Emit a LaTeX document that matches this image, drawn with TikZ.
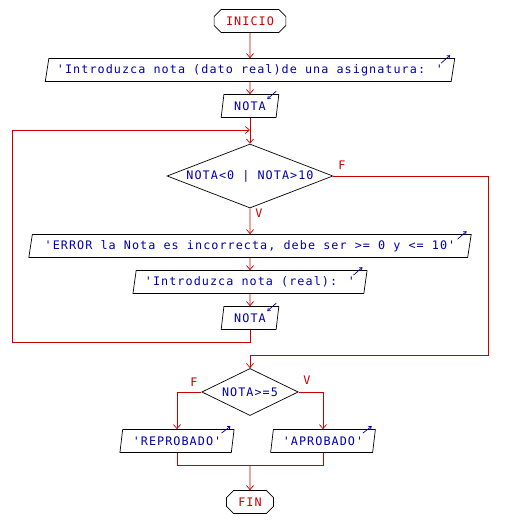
\documentclass[tikz,border=0pt]{standalone}
\usepackage{fontspec}
\usepackage{tikz}
\usetikzlibrary{arrows.meta,positioning,shapes.geometric,shapes.misc}
\usepackage{xcolor}
\newfontfamily\dfdfont{DejaVu Sans Mono}[LetterSpace=9]
\definecolor{dfdblue}{RGB}{0,0,170}
\definecolor{dfdred}{RGB}{200,0,0}
\tikzset{
  term/.style     = {draw, chamfered rectangle, chamfered rectangle xsep=3pt,
                     chamfered rectangle ysep=3pt, inner sep=0pt,
                     minimum height=19.5pt, text=dfdred},
  io/.style       = {draw, trapezium, trapezium left angle=73,
                     trapezium right angle=107, trapezium stretches body,
                     inner sep=0pt, minimum height=19.5pt, text=dfdblue},
  decision/.style = {draw, diamond, inner sep=0pt, text=dfdblue},
  flow/.style     = {draw=dfdred, -{Straight Barb[length=3.5pt,width=6pt]}},
  wire/.style     = {draw=dfdred},
  iomark/.style   = {draw=dfdblue, -{Straight Barb[length=2pt,width=3pt]}},
  lbl/.style      = {text=dfdred, inner sep=0pt},
}
\begin{document}
\begin{tikzpicture}[x=0.85pt,y=-0.85pt,line width=0.6pt,font=\dfdfont\fontsize{10pt}{12pt}\selectfont]
\useasboundingbox (0,0) rectangle (511,521);
\node[term,minimum width=61pt] (ini) at (250,21) {INICIO};
\node[io,minimum width=348pt] (out1) at (250,70) {'Introduzca nota (dato real)de una asignatura: '};
\node[io,minimum width=49pt] (in1) at (250,106) {NOTA};
\coordinate (j1) at (250,130);
\node[decision,aspect=2.6,minimum width=141pt,minimum height=54.4pt] (dec1) at (250,176) {NOTA<0 | NOTA>10};
\node[io,minimum width=376pt] (err) at (250,246) {'ERROR la Nota es incorrecta, debe ser >= 0 y <= 10'};
\node[io,minimum width=199pt] (out2) at (250,282) {'Introduzca nota (real): '};
\node[io,minimum width=49pt] (in2) at (250,318) {NOTA};
\coordinate (b1) at (12,342);
\coordinate (c1) at (488,355);
\node[decision,aspect=2,minimum width=82pt,minimum height=40pt] (dec2) at (250,392) {NOTA>=5};
\node[io,minimum width=97pt] (rep) at (177,441) {'REPROBADO'};
\node[io,minimum width=89pt] (apr) at (323,441) {'APROBADO'};
\coordinate (m1) at (250,465);
\node[term,minimum width=40pt] (fin) at (250,502) {FIN};
\node[lbl] (f1) at (342,165) {F};
\node[lbl] (v1) at (259,213) {V};
\node[lbl] (f2) at (194,382) {F};
\node[lbl] (v2) at (307,380) {V};
\draw[flow] (ini) -- (out1); \draw[flow] (out1) -- (in1); \draw[flow] (in1) -- (dec1);
\draw[flow] (dec1) -- (err); \draw[flow] (err) -- (out2); \draw[flow] (out2) -- (in2);
\draw[flow] (in2) |- (b1) |- (j1);
\draw[flow] (dec1.east) -| (c1) -| (dec2.north);
\draw[flow] (dec2.west) -| (rep); \draw[flow] (dec2.east) -| (apr);
\draw[wire] (rep) |- (m1); \draw[wire] (apr) |- (m1); \draw[flow] (m1) -- (fin);
\draw[iomark] ([shift={(-14,5)}]out1.top right corner) -- ++(9,-8);
\draw[iomark] ([shift={(-14,5)}]err.top right corner) -- ++(9,-8);
\draw[iomark] ([shift={(-14,5)}]out2.top right corner) -- ++(9,-8);
\draw[iomark] ([shift={(-13,4)}]rep.top right corner) -- ++(9,-7);
\draw[iomark] ([shift={(-13,4)}]apr.top right corner) -- ++(9,-7);
\draw[iomark] ([shift={(-3,-3)}]in1.top right corner) -- ++(-9,8);
\draw[iomark] ([shift={(-3,-3)}]in2.top right corner) -- ++(-9,8);
\end{tikzpicture}
\end{document}
